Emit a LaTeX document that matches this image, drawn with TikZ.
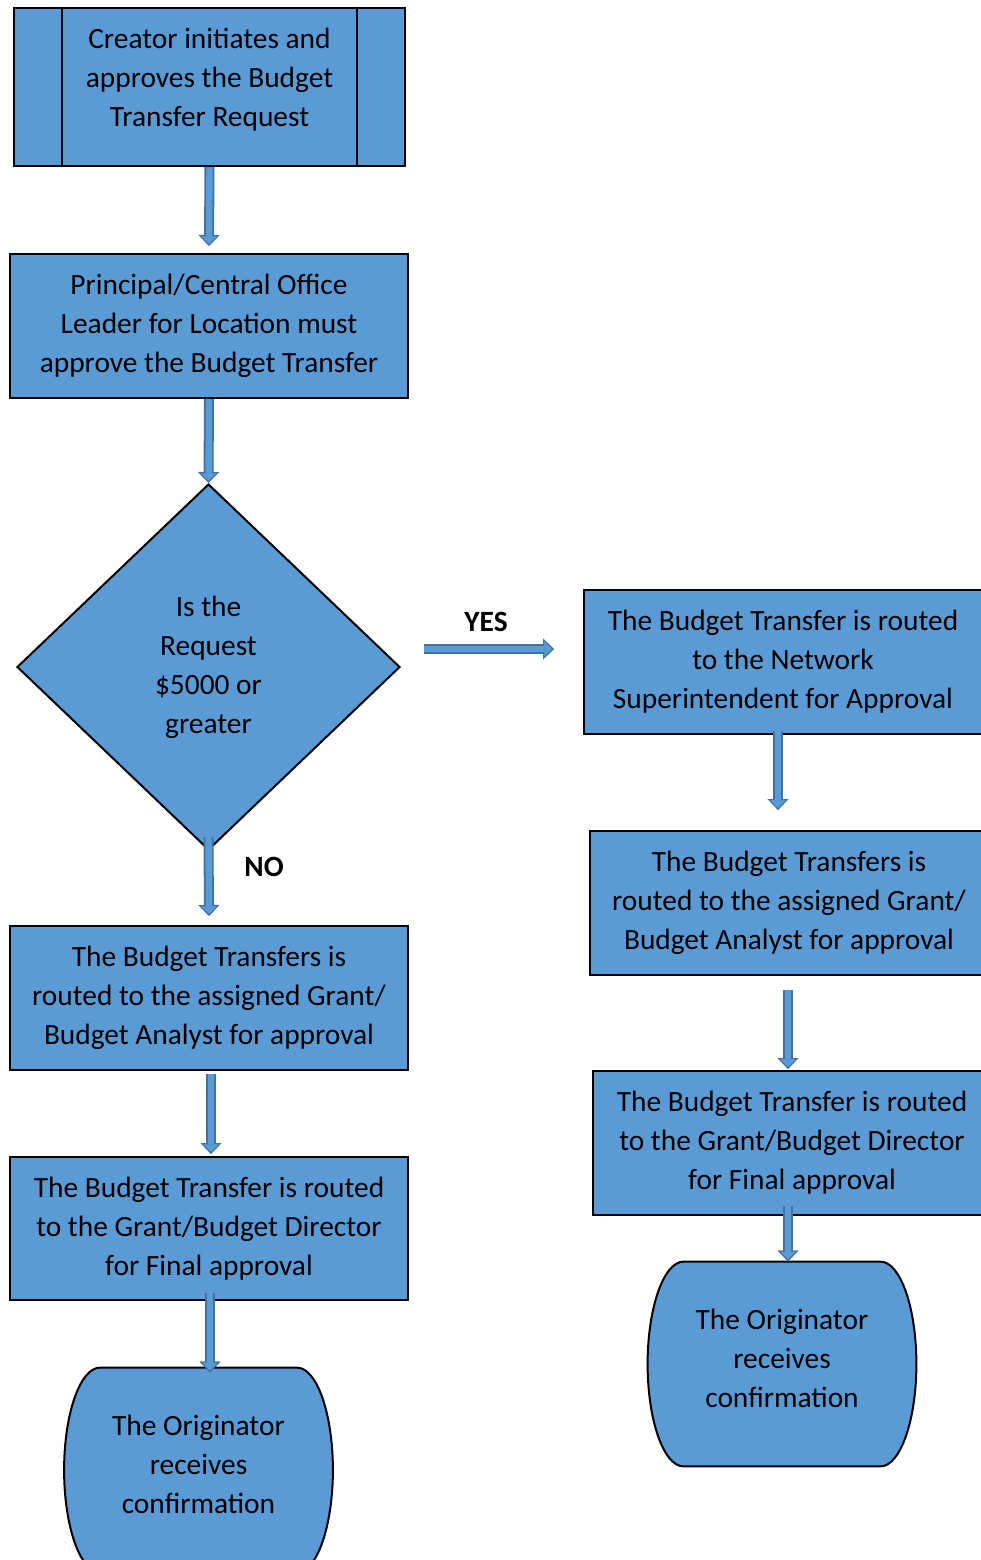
\documentclass[tikz,border=0pt]{standalone}
\usepackage{fontspec}
\setmainfont{Carlito}
\usepackage{tikz}
\usetikzlibrary{calc, positioning, arrows.meta, shapes.geometric, backgrounds}
\usepackage{xcolor}
\definecolor{boxFill}{RGB}{91, 155, 213}
\definecolor{arrowEdge}{RGB}{65, 113, 156}

\begin{document}
\begin{tikzpicture}[x=1pt, y=1pt,
    flowbox/.style={draw=black, line width=1pt, fill=boxFill, align=center, inner sep=0pt,
      font=\fontsize{14.7}{19.5}\selectfont, minimum width=199pt, minimum height=72pt},
    decbox/.style={flowbox, diamond, minimum width=191.5pt, minimum height=183pt},
    endbox/.style={align=center, inner sep=0pt, font=\fontsize{14.7}{19.5}\selectfont,
      minimum width=134pt, minimum height=102pt, text depth=6pt},
    barrow/.style={line width=5pt, draw=arrowEdge, -{Triangle[width=10.5pt,length=5.5pt,line width=0.1pt]},
      postaction={draw=boxFill, line width=3.2pt, shorten >=1.1pt,
        -{Triangle[width=7.6pt,length=3.8pt,line width=0.1pt]}}},
    answer/.style={font=\fontsize{14.7}{17}\selectfont\bfseries}]
  \useasboundingbox (0,0) rectangle (490.5,-780);

  % left column
  \node[flowbox, minimum width=195.5pt, minimum height=79pt, text depth=10pt] (create) at (104.75,-43.5)
    {Creator initiates and\\approves the Budget\\Transfer Request};
  \draw[line width=1pt] ([xshift=24.5pt]create.north west) -- ([xshift=24.5pt]create.south west);
  \draw[line width=1pt] ([xshift=-24.5pt]create.north east) -- ([xshift=-24.5pt]create.south east);
  \node[flowbox] (principal) at (104.5,-163)
    {Principal/Central Office\\Leader for Location must\\approve the Budget Transfer};
  \node[decbox] (dec) at (104.25,-333.5) {Is the\\Request\\\$5000 or\\greater};
  \node[flowbox] (grantL) at (104.5,-499)
    {The Budget Transfers is\\routed to the assigned Grant/\\Budget Analyst for approval};
  \node[flowbox, minimum height=71.5pt] (dirL) at (104.5,-614.25)
    {The Budget Transfer is routed\\to the Grant/Budget Director\\for Final approval};
  \node[endbox] (origL) at (99.25,-735) {The Originator\\receives\\confirmation};

  % right column
  \node[flowbox] (network) at (391.5,-331)
    {The Budget Transfer is routed\\to the Network\\Superintendent for Approval};
  \node[flowbox] (grantR) at (394.5,-451.5)
    {The Budget Transfers is\\routed to the assigned Grant/\\Budget Analyst for approval};
  \node[flowbox] (dirR) at (396,-571.5)
    {The Budget Transfer is routed\\to the Grant/Budget Director\\for Final approval};
  \node[endbox] (origR) at (391,-682) {The Originator\\receives\\confirmation};

  % terminals behind their text
  \begin{scope}[on background layer]
    \foreach \t in {origL, origR} {
      \draw[line width=1pt, fill=boxFill]
        ($(\t.north west)+(18,0)$) -- ($(\t.north east)+(-18,0)$)
        .. controls ($(\t.north east)+(-8,0)$) and ($(\t.east)+(0,28)$) .. (\t.east)
        .. controls ($(\t.east)+(0,-28)$) and ($(\t.south east)+(-8,0)$) .. ($(\t.south east)+(-18,0)$)
        -- ($(\t.south west)+(18,0)$)
        .. controls ($(\t.south west)+(8,0)$) and ($(\t.west)+(0,-28)$) .. (\t.west)
        .. controls ($(\t.west)+(0,28)$) and ($(\t.north west)+(8,0)$) .. cycle;
    }
  \end{scope}

  \node[answer] (yes) at (243,-311) {YES};
  \node[answer] (no) at (132,-433.5) {NO};

  % connectors
  \draw[barrow] (create.south) -- ([yshift=3.5pt]principal.north);
  \draw[barrow] (principal.south) -- (dec.north);
  \draw[barrow] ([yshift=7pt]dec.south) -- ([yshift=4.5pt]grantL.north);
  \draw[barrow] ([xshift=1pt,yshift=-1.5pt]grantL.south) -- ([xshift=1pt,yshift=1pt]dirL.north);
  \draw[barrow] ([xshift=.5pt,yshift=4pt]dirL.south) -- ($(dirL.south |- origL.north)+(.5,-2.5)$);
  \draw[barrow] ([shift={(11.5,9)}]dec.east) -- ([shift={(-14.5,6.5)}]network.west);
  \draw[barrow] ([xshift=-2.5pt,yshift=2pt]network.south) -- ($(network.south |- grantR.north)+(-2.5,10)$);
  \draw[barrow] ([xshift=-.5pt,yshift=-7pt]grantR.south) -- ($(grantR.south |- dirR.north)+(-.5,.5)$);
  \draw[barrow] ([xshift=-2pt,yshift=5pt]dirR.south) -- ($(dirR.south |- origR.north)+(-2,0)$);
\end{tikzpicture}
\end{document}
